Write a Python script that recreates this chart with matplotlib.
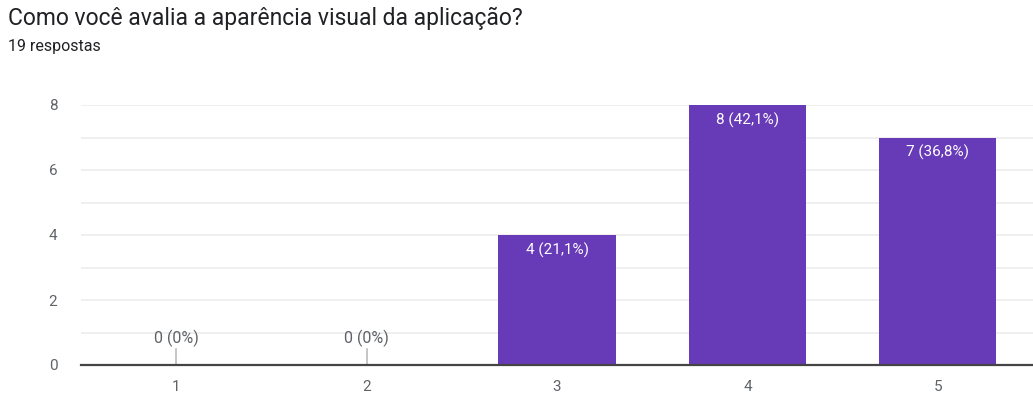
import matplotlib.pyplot as plt
from matplotlib.ticker import MultipleLocator

plt.rcParams['font.family'] = ['Roboto', 'DejaVu Sans']

# survey data
categories = ['1', '2', '3', '4', '5']
counts = [0, 0, 4, 8, 7]
labels = ['0 (0%)', '0 (0%)', '4 (21,1%)', '8 (42,1%)', '7 (36,8%)']

title = 'Como você avalia a aparência visual da aplicação?'
subtitle = '19 respostas'

purple = '#673ab7'
grey_text = '#5f6368'

fig = plt.figure(figsize=(10.33, 3.94), dpi=100)
ax = fig.add_axes([81 / 1033, 1 - 365 / 394, 952 / 1033, 260 / 394])

x = list(range(1, len(categories) + 1))
ax.bar(x, counts, width=0.615, color=purple, zorder=3)

ax.set_xlim(0.5, 5.5)
ax.set_ylim(0, 8)
ax.set_xticks(x)
ax.set_xticklabels(categories)
ax.yaxis.set_major_locator(MultipleLocator(2))
ax.yaxis.set_minor_locator(MultipleLocator(1))
ax.grid(axis='y', which='both', color='#ececec', linewidth=1.2, zorder=0)
ax.tick_params(axis='both', which='both', length=0, labelsize=11, labelcolor=grey_text)
ax.tick_params(axis='x', pad=11)
ax.tick_params(axis='y', pad=17)

for s in ['top', 'right', 'left']:
    ax.spines[s].set_visible(False)
ax.spines['bottom'].set_color('#444444')
ax.spines['bottom'].set_linewidth(1.6)
ax.spines['bottom'].set_zorder(4)

# value labels
for xi, c, lab in zip(x, counts, labels):
    if c > 0:
        ax.annotate(lab, (xi, c), xytext=(0, -11), textcoords='offset points',
                    ha='center', va='center', color='white', fontsize=11, zorder=5)
    else:
        ax.plot([xi, xi], [0, 0.5], color='#bbbbbb', linewidth=1.2, zorder=3)
        ax.annotate(lab, (xi, 0), xytext=(0, 19.5), textcoords='offset points',
                    ha='center', va='center', color=grey_text, fontsize=11.5, zorder=5)

fig.text(8 / 1033, 1 - 18 / 394, title, fontsize=16.5, color='#202124', va='center', ha='left')
fig.text(8 / 1033, 1 - 47 / 394, subtitle, fontsize=11.5, color='#202124', va='center', ha='left')

plt.savefig('out.png', dpi=100)
